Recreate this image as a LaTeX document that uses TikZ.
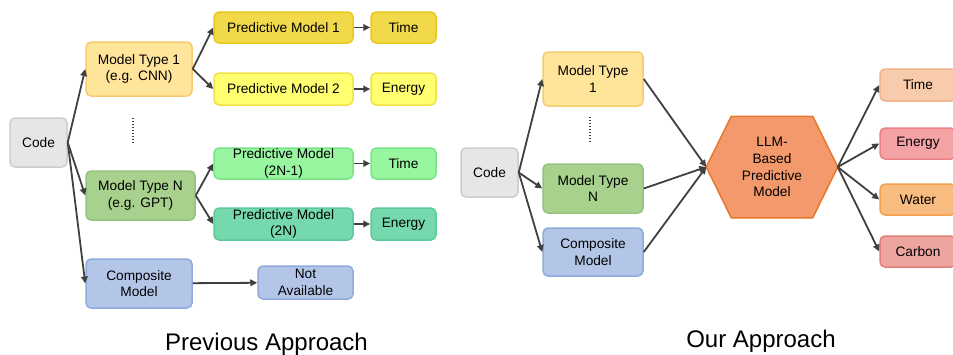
\documentclass[tikz,border=0pt]{standalone}
\usepackage{fontspec}
\setmainfont{Liberation Sans}
\usetikzlibrary{arrows.meta}

% box palettes
\definecolor{codeF}{HTML}{E7E6E6}\definecolor{codeD}{HTML}{CDCDCD}
\definecolor{typeoneF}{HTML}{FFE599}\definecolor{typeoneD}{HTML}{F8CC6E}
\definecolor{goldF}{HTML}{F2D94A}\definecolor{goldD}{HTML}{E9C81C}
\definecolor{yelF}{HTML}{FFFF70}\definecolor{yelD}{HTML}{F0E048}
\definecolor{typenF}{HTML}{A8D18D}\definecolor{typenD}{HTML}{93C47D}
\definecolor{lgreenF}{HTML}{98F5A0}\definecolor{lgreenD}{HTML}{77E486}
\definecolor{tealF}{HTML}{76D9AE}\definecolor{tealD}{HTML}{5ACB98}
\definecolor{blueF}{HTML}{B4C6E7}\definecolor{blueD}{HTML}{8FAADC}
\definecolor{hexF}{HTML}{F3996B}\definecolor{hexD}{HTML}{E8782A}
\definecolor{timeF}{HTML}{F8CBAD}\definecolor{timeD}{HTML}{F2B48A}
\definecolor{enF}{HTML}{F4A3A5}\definecolor{enD}{HTML}{EA8088}
\definecolor{waterF}{HTML}{F9BC80}\definecolor{waterD}{HTML}{F4A250}
\definecolor{carbF}{HTML}{EEA59F}\definecolor{carbD}{HTML}{E07F78}
\definecolor{ink}{HTML}{404040}

\tikzset{
  box/.style={rounded corners=5pt, line width=1.5pt, align=center, inner sep=0pt,
    font=\fontsize{13.7}{16.7}\selectfont, text=black},
  sz/.style 2 args={minimum width=#1pt, minimum height=#2pt},
  pal/.style 2 args={fill=#1, draw=#2},
  link/.style={draw=ink, line width=1.8pt, -{Triangle[length=7pt,width=6.5pt]}},
  vdots/.style={draw=ink, line width=1.6pt, dash pattern=on 1.4pt off 1.6pt},
  title/.style={font=\fontsize{24}{28}\selectfont, anchor=base, inner sep=0pt}
}

\begin{document}
\begin{tikzpicture}[x=1pt, y=-1pt]
\useasboundingbox (0,0) rectangle (953,354);
\clip (0,0) rectangle (953,354);

% ---------- previous approach ----------
\node[box, sz={57}{49}, pal={codeF}{codeD}] (codeA) at (38.5,142.5) {Code};
\node[box, sz={106}{54}, pal={typeoneF}{typeoneD}] (typeA) at (139,69) {Model Type 1\\(e.g. CNN)};
\node[box, sz={109}{49}, pal={typenF}{typenD}] (typeN) at (140.5,195.5) {Model Type N\\(e.g. GPT)};
\node[box, sz={106}{49}, pal={blueF}{blueD}] (compA) at (139,283.5) {Composite\\Model};

\node[box, sz={139}{31}, pal={goldF}{goldD}] (pmA) at (283.5,27.5) {Predictive Model 1};
\node[box, sz={65}{31}, pal={goldF}{goldD}] (timeA) at (403.5,27.5) {Time};
\node[box, sz={139}{32}, pal={yelF}{yelD}] (pmB) at (283.5,89) {Predictive Model 2};
\node[box, sz={65}{32}, pal={yelF}{yelD}] (enA) at (403.5,89) {Energy};
\node[box, sz={139}{31}, pal={lgreenF}{lgreenD}] (pmC) at (283.5,163.5) {Predictive Model\\(2N-1)};
\node[box, sz={65}{31}, pal={lgreenF}{lgreenD}] (timeB) at (403.5,163.5) {Time};
\node[box, sz={139}{32}, pal={tealF}{tealD}] (pmD) at (283.5,224) {Predictive Model\\(2N)};
\node[box, sz={65}{32}, pal={tealF}{tealD}] (enB) at (403.5,224) {Energy};
\node[box, sz={95}{33}, pal={blueF}{blueD}] (na) at (305.5,282.5) {Not\\Available};

\coordinate (dotA1) at (133,118);
\coordinate (dotA2) at (133,143);
\draw[vdots] (dotA1) -- (dotA2);

\draw[link] (codeA.east) -- (typeA.west);
\draw[link] (codeA.east) -- (typeN.west);
\draw[link] (codeA.east) -- (compA.west);
\draw[link] (typeA.east) -- (pmA.west);
\draw[link] (typeA.east) -- (pmB.west);
\draw[link] (typeN.east) -- (pmC.west);
\draw[link] (typeN.east) -- (pmD.west);
\draw[link] (pmA) -- (timeA);
\draw[link] (pmB) -- (enA);
\draw[link] (pmC) -- (timeB);
\draw[link] (pmD) -- (enB);
\draw[link] (compA) -- (na);

\node[title] (prevT) at (266.5,350) {Previous Approach};

% ---------- our approach ----------
\node[box, sz={57}{49}, pal={codeF}{codeD}] (codeB) at (489.5,172.5) {Code};
\node[box, sz={100}{54}, pal={typeoneF}{typeoneD}] (typeB) at (593,79) {Model Type\\1};
\node[box, sz={100}{49}, pal={typenF}{typenD}] (typeM) at (593,188.5) {Model Type\\N};
\node[box, sz={100}{48}, pal={blueF}{blueD}] (compB) at (593,252) {Composite\\Model};

\coordinate (dotB1) at (590,117);
\coordinate (dotB2) at (590,143);
\draw[vdots] (dotB1) -- (dotB2);

% LLM hexagon: flat top and bottom, pointed sides
\node[box, minimum width=130pt, minimum height=100pt, draw=none] (hex) at (772,167) {};
\filldraw[fill=hexF, draw=hexD, line width=1.5pt, line join=miter]
  (hex.west) -- ([xshift=25pt]hex.north west) -- ([xshift=-25pt]hex.north east)
  -- (hex.east) -- ([xshift=-25pt]hex.south east) -- ([xshift=25pt]hex.south west) -- cycle;
\node[box] at (hex.center) {LLM-\\Based\\Predictive\\Model};

\node[box, sz={76}{32}, pal={timeF}{timeD}] (outT) at (918,85) {Time};
\node[box, sz={76}{31}, pal={enF}{enD}] (outE) at (918,143.5) {Energy};
\node[box, sz={76}{31}, pal={waterF}{waterD}] (outW) at (918,199.5) {Water};
\node[box, sz={76}{31}, pal={carbF}{carbD}] (outC) at (918,251.5) {Carbon};

\draw[link] (codeB.east) -- (typeB.west);
\draw[link] (codeB.east) -- (typeM.west);
\draw[link] (codeB.east) -- (compB.west);
\draw[link] (typeB.east) -- (hex.west);
\draw[link] (typeM.east) -- (hex.west);
\draw[link] (compB.east) -- (hex.west);
\draw[link] (hex.east) -- (outT.west);
\draw[link] (hex.east) -- (outE.west);
\draw[link] (hex.east) -- (outW.west);
\draw[link] (hex.east) -- (outC.west);

\node[title] (ourT) at (761,347) {Our Approach};
\end{tikzpicture}
\end{document}
